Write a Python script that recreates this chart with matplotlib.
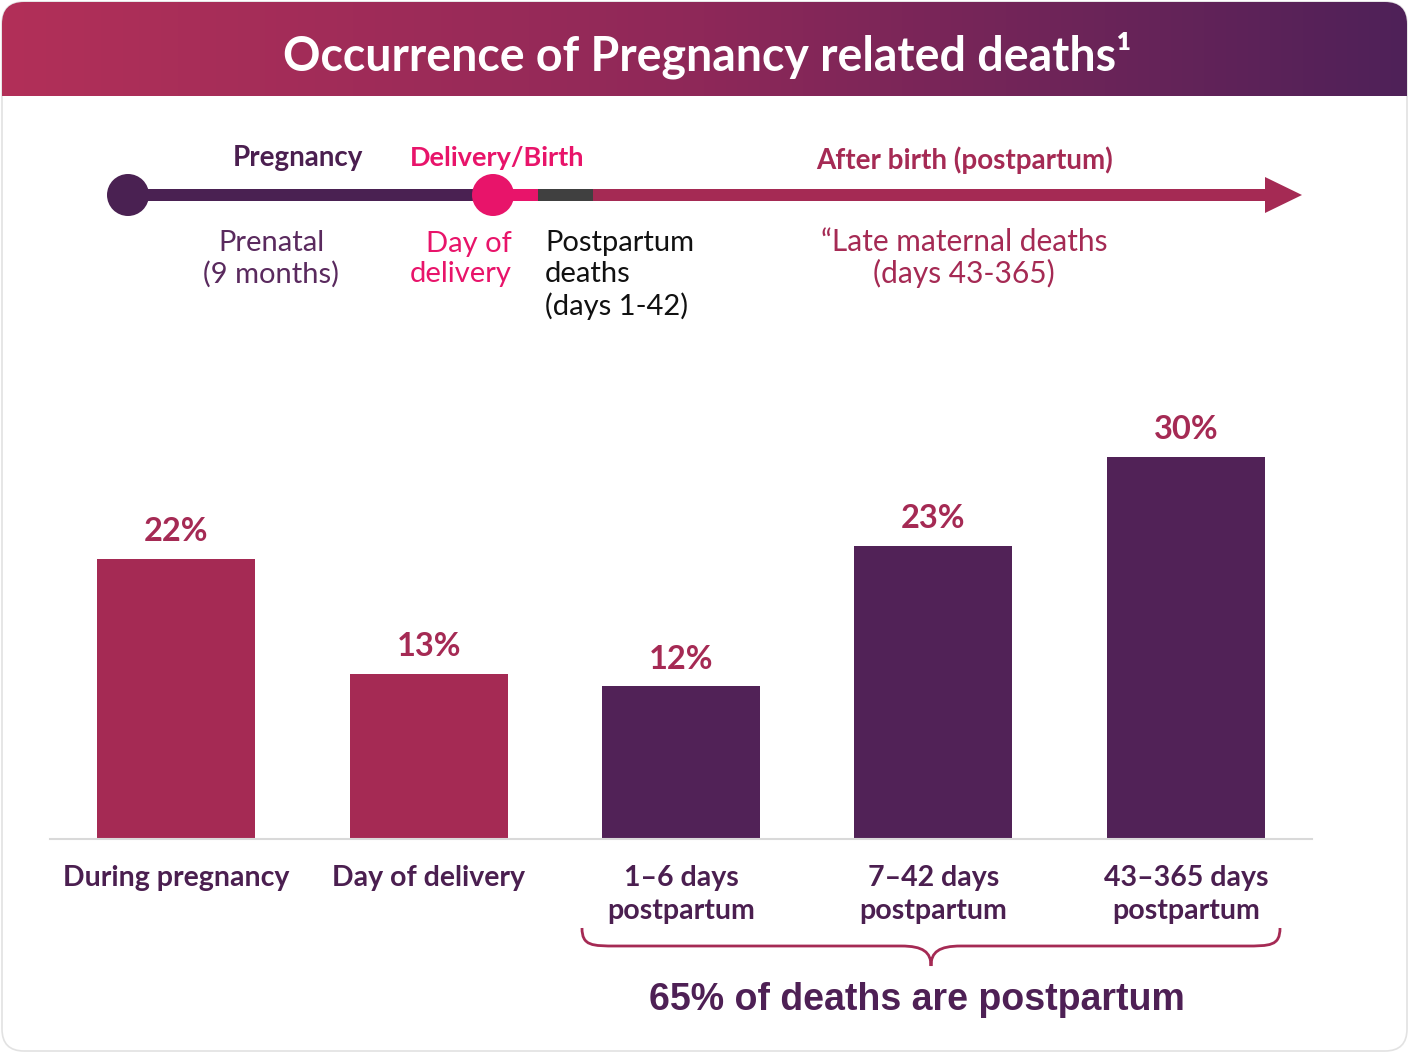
import numpy as np
import matplotlib
matplotlib.use("Agg")
import matplotlib.pyplot as plt
from matplotlib.patches import FancyBboxPatch, Circle, Polygon, PathPatch
from matplotlib.path import Path
from matplotlib.colors import LinearSegmentedColormap

# data
categories = ["During pregnancy", "Day of delivery", "1\u20136 days\npostpartum",
              "7\u201342 days\npostpartum", "43\u2013365 days\npostpartum"]
shares = [22, 13, 12, 23, 30]
labels = ["22%", "13%", "12%", "23%", "30%"]
bar_colors = ["#A52A54", "#A52A54", "#512257", "#512257", "#512257"]

title = "Occurrence of Pregnancy related deaths\u00b9"
summary = "65% of deaths are postpartum"

CRIMSON = "#A52A54"
PURPLE = "#4B1F50"
PINK = "#E8146A"

W, H = 1409, 1053
fig = plt.figure(figsize=(W / 100, H / 100), dpi=100)

# overlay in pixel coords for the decoration
ov = fig.add_axes([0, 0, 1, 1])
ov.set_xlim(0, W)
ov.set_ylim(H, 0)
ov.axis("off")

# outer frame
ov.add_patch(FancyBboxPatch((2, 2), W - 4, H - 4, boxstyle="round,pad=0,rounding_size=22",
                            fc="white", ec="#E2E2E2", lw=1.2, zorder=0))

# title gradient bar
cmap = LinearSegmentedColormap.from_list("hdr", ["#B23058", "#8E2858", "#4F2158"])
grad = np.linspace(0, 1, 256).reshape(1, -1)
im = ov.imshow(grad, cmap=cmap, aspect="auto", extent=(2, W - 2, 96, 2), zorder=1)
clip = FancyBboxPatch((2, 2), W - 4, 140, boxstyle="round,pad=0,rounding_size=22",
                      fc="none", ec="none", transform=ov.transData)
ov.add_patch(clip)
im.set_clip_path(clip)
ov.text(707, 55, title, color="white", fontsize=33.5, fontweight="bold",
        family="Lato", ha="center", va="center", zorder=2)

# timeline
ly = 195
lw = 12
segs = [(128, 493, "#4A2152"), (493, 538, PINK), (538, 593, "#404040"), (593, 1268, CRIMSON)]
for x0, x1, c in segs:
    ov.add_patch(plt.Rectangle((x0, ly - lw / 2), x1 - x0, lw, fc=c, ec="none", zorder=2))
ov.add_patch(Polygon([[1265, 177], [1302, 195], [1265, 213]], closed=True, fc=CRIMSON, ec="none", zorder=2))
ov.add_patch(Circle((128, ly), 21, fc="#4A2152", ec="none", zorder=3))
ov.add_patch(Circle((493, ly), 21, fc=PINK, ec="none", zorder=3))

ov.text(298, 158, "Pregnancy", color=PURPLE, fontsize=20, fontweight="bold", family="Lato",
        ha="center", va="center")
ov.text(497, 158, "Delivery/Birth", color=PINK, fontsize=19.5, fontweight="bold", family="Lato",
        ha="center", va="center")
ov.text(965, 160, "After birth (postpartum)", color=CRIMSON, fontsize=20, fontweight="bold",
        family="Lato", ha="center", va="center")

ov.text(271, 259, "Prenatal\n(9 months)", color="#5A2A5E", fontsize=21, family="Lato",
        ha="center", va="center", linespacing=1.2)
ov.text(512, 259, "Day of\ndelivery", color=PINK, fontsize=21, family="Lato",
        ha="right", va="center", linespacing=1.2)
ov.text(545, 275, "Postpartum\ndeaths\n(days 1-42)", color="#111111", fontsize=21, family="Lato",
        ha="left", va="center", linespacing=1.25)
ov.text(964, 258, "\u201cLate maternal deaths\n(days 43-365)", color=CRIMSON, fontsize=21.5,
        family="Lato", ha="center", va="center", linespacing=1.15)

# brace under the postpartum bars
bx0, bx1, by0, by1, tipx, tipy = 582, 1280, 928, 946, 931, 966
verts = [(bx0, by0), (bx0, by1), (bx0 + 10, by1), (bx0 + 35, by1),
         (tipx - 30, by1),
         (tipx - 8, by1), (tipx, by1 + 6), (tipx, tipy),
         (tipx, by1 + 6), (tipx + 8, by1), (tipx + 30, by1),
         (bx1 - 35, by1),
         (bx1 - 10, by1), (bx1, by1), (bx1, by0)]
codes = [Path.MOVETO, Path.CURVE4, Path.CURVE4, Path.CURVE4,
         Path.LINETO,
         Path.CURVE4, Path.CURVE4, Path.CURVE4,
         Path.CURVE4, Path.CURVE4, Path.CURVE4,
         Path.LINETO,
         Path.CURVE4, Path.CURVE4, Path.CURVE4]
ov.add_patch(PathPatch(Path(verts, codes), fc="none", ec=CRIMSON, lw=2, zorder=2))

ov.text(917, 1000, summary, color="#4E2055", fontsize=27, fontweight="bold",
        family="Liberation Sans", ha="center", va="center")

# bar chart
scale = 12.73  # px per percent
ymax = 32
ax = fig.add_axes([50 / W, 1 - 839 / H, (1312 - 50) / W, ymax * scale / H])
ax.set_facecolor("none")
x = np.arange(len(shares))
ax.bar(x, shares, width=0.626, color=bar_colors, zorder=2)
ax.set_xlim(-0.5, 4.5)
ax.set_ylim(0, ymax)
for xi, v, t in zip(x, shares, labels):
    ax.text(xi, v + 1.0, t, color=CRIMSON, fontsize=23.5, fontweight="bold", family="Lato",
            ha="center", va="bottom")
for s in ["top", "left", "right"]:
    ax.spines[s].set_visible(False)
ax.spines["bottom"].set_color("#D9D9D9")
ax.spines["bottom"].set_linewidth(1.5)
ax.set_yticks([])
ax.set_xticks(x)
ax.set_xticklabels(categories, color=PURPLE, fontsize=20.5, fontweight="bold", family="Lato",
                   linespacing=1.3)
ax.tick_params(axis="x", length=0, pad=19)

fig.savefig("out.png", dpi=100)
